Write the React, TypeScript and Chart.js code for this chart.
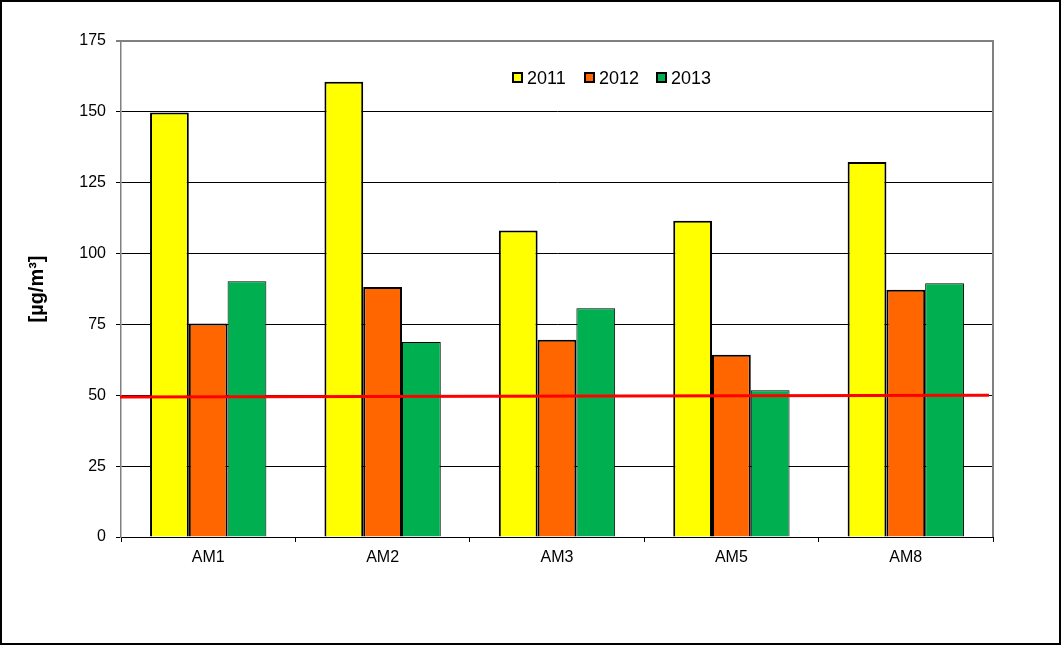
import React, { useEffect, useRef } from "react";
import { Chart, registerables } from "chart.js";

Chart.register(...registerables);

const CATEGORIES = ["AM1", "AM2", "AM3", "AM5", "AM8"];
const SERIES_NAMES = ["2011", "2012", "2013"];
const VALUES_2011 = [149.8, 160.6, 108.1, 111.6, 132.3];
const VALUES_2012 = [75.3, 88.2, 69.6, 64.3, 87.2];
const VALUES_2013 = [90.2, 68.8, 80.7, 51.8, 89.5];
const LIMIT_LINE = [49.4, 50.0];
const Y_TICKS = [0, 25, 50, 75, 100, 125, 150, 175];
const Y_TITLE = "[µg/m³]";

const COLORS = ["#FFFF00", "#FF6600", "#00B050"];
const BORDER_WIDTHS = [2, 2, 1];
const FONT = "'Liberation Sans', Arial, sans-serif";

const frame = {
  id: "frame",
  afterDraw(chart: any) {
    const { ctx, chartArea } = chart;
    ctx.save();
    ctx.strokeStyle = "#808080";
    ctx.lineWidth = 2;
    ctx.beginPath();
    ctx.moveTo(chartArea.left, chartArea.top);
    ctx.lineTo(chartArea.right, chartArea.top);
    ctx.lineTo(chartArea.right, chartArea.bottom);
    ctx.stroke();
    ctx.restore();
  },
};

const limitLine = {
  id: "limitLine",
  afterDatasetsDraw(chart: any) {
    const { ctx, chartArea, scales } = chart;
    const y = scales.y;
    ctx.save();
    ctx.strokeStyle = "#FF0000";
    ctx.lineWidth = 3;
    ctx.beginPath();
    ctx.moveTo(chartArea.left - 1, y.getPixelForValue(LIMIT_LINE[0]));
    ctx.lineTo(chartArea.right - 4, y.getPixelForValue(LIMIT_LINE[1]));
    ctx.stroke();
    ctx.restore();
  },
};

export default function App() {
  const ref = useRef<HTMLCanvasElement>(null);
  useEffect(() => {
    const series = [VALUES_2011, VALUES_2012, VALUES_2013];
    const chart = new Chart(ref.current!, {
      type: "bar",
      data: {
        labels: CATEGORIES,
        datasets: series.map((vals, i) => ({
          label: SERIES_NAMES[i],
          data: vals,
          backgroundColor: COLORS[i],
          borderColor: "#000000",
          borderWidth: BORDER_WIDTHS[i],
          categoryPercentage: 0.667,
          barPercentage: 1,
        })),
      },
      options: {
        animation: false,
        responsive: false,
        devicePixelRatio: 1,
        layout: { padding: { top: 41, right: 68, left: 0, bottom: 0 } },
        plugins: { legend: { display: false }, tooltip: { enabled: false } },
        scales: {
          x: {
            type: "category",
            offset: true,
            grid: {
              display: true,
              drawOnChartArea: false,
              drawTicks: true,
              tickLength: 5,
              color: "#000000",
              offset: true,
            },
            border: { display: true, color: "#000000", width: 1 },
            ticks: { color: "#000000", font: { family: FONT, size: 16 }, padding: 6 },
            afterFit: (s: any) => {
              s.height = 108;
            },
          },
          y: {
            min: 0,
            max: 175,
            afterBuildTicks: (s: any) => {
              s.ticks = Y_TICKS.map((v) => ({ value: v }));
            },
            grid: {
              color: (c: any) => (c.tick && c.tick.value === 175 ? "#808080" : "#000000"),
              lineWidth: (c: any) => (c.tick && c.tick.value === 175 ? 2 : 1),
              tickLength: 5,
            },
            border: { display: true, color: "#808080", width: 1.5 },
            ticks: { color: "#000000", font: { family: FONT, size: 16 }, padding: 10 },
            title: {
              display: true,
              text: Y_TITLE,
              color: "#000000",
              font: { family: FONT, size: 20, weight: "bold" },
              padding: { top: 25, bottom: 0 },
            },
            afterFit: (s: any) => {
              s.width = 121;
            },
          },
        },
      },
      plugins: [frame, limitLine],
    });
    return () => chart.destroy();
  }, []);

  return (
    <div style={{ position: "fixed", left: 0, top: 0, width: 1061, height: 645, background: "#fff" }}>
      <canvas ref={ref} width={1061} height={645} style={{ display: "block" }} />
      {SERIES_NAMES.map((name, i) => (
        <React.Fragment key={name}>
          <div
            style={{
              position: "absolute",
              left: 512 + i * 72,
              top: 72,
              width: 11,
              height: 11,
              boxSizing: "border-box",
              border: "2px solid #000",
              background: COLORS[i],
            }}
          />
          <div
            style={{
              position: "absolute",
              left: 527 + i * 72,
              top: 69,
              lineHeight: "18px",
              fontSize: 18,
              fontFamily: FONT,
              color: "#000",
              whiteSpace: "nowrap",
            }}
          >
            {name}
          </div>
        </React.Fragment>
      ))}
      <div
        style={{
          position: "absolute",
          inset: 0,
          boxSizing: "border-box",
          border: "2px solid #000",
          pointerEvents: "none",
        }}
      />
    </div>
  );
}
